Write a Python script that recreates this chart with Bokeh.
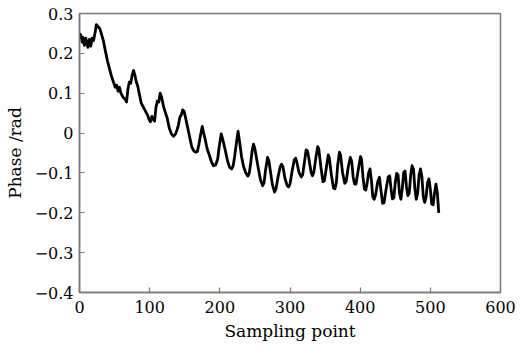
from bokeh.plotting import figure
from bokeh.models import Range1d, FixedTicker, CustomJSTickFormatter
from bokeh.embed import file_html
from bokeh.resources import INLINE

sample = [0, 2, 4, 5, 7, 9, 12, 14, 16, 18, 20, 22, 24, 26, 29, 31, 34, 37, 40, 43, 46, 49, 51, 53, 55, 57, 59, 62, 65, 67,
          69, 71, 73, 75, 77, 79, 81, 83, 85, 88, 91, 94, 97, 99, 101, 103, 105, 107, 109, 111, 113, 115, 117, 120, 123, 125,
          128, 131, 134, 137, 139, 141, 143, 145, 147, 149, 151, 154, 157, 160, 163, 166, 168, 170, 172, 175, 177, 179, 182,
          185, 188, 191, 194, 197, 199, 202, 205, 208, 211, 214, 217, 219, 221, 224, 226, 228, 231, 234, 237, 240, 242, 244,
          246, 248, 250, 252, 255, 258, 261, 263, 265, 268, 270, 272, 275, 278, 280, 283, 286, 288, 290, 293, 296, 298, 300,
          303, 306, 308, 310, 313, 316, 318, 320, 323, 325, 327, 330, 332, 334, 337, 339.5, 341, 344, 347, 349, 352, 354.5,
          356, 359, 362, 364, 366, 368, 370.5, 372, 375, 378, 380, 383, 386, 388, 390, 392, 394, 397, 400.5, 402, 404, 406,
          408, 410, 412, 414, 416, 418, 420, 422, 425, 427.5, 429, 432, 434, 437, 440, 442, 444, 446, 448, 450, 452, 454, 456,
          458, 460, 462, 464, 466, 468, 470, 472, 474, 476, 478, 480, 482, 484, 486, 488, 490, 492, 494, 496, 498, 500, 502,
          504, 506, 508, 510, 512]

phase = [0.250, 0.245, 0.228, 0.240, 0.220, 0.238, 0.215, 0.235, 0.218, 0.238, 0.232, 0.250, 0.272, 0.268, 0.262, 0.250,
         0.232, 0.205, 0.180, 0.160, 0.140, 0.125, 0.115, 0.120, 0.105, 0.115, 0.100, 0.090, 0.085, 0.078,
         0.110, 0.128, 0.125, 0.145, 0.157, 0.145, 0.128, 0.118, 0.100, 0.075, 0.065, 0.055, 0.045, 0.035, 0.028, 0.042,
         0.035, 0.030, 0.065, 0.080, 0.078, 0.100, 0.090, 0.065, 0.048, 0.038,
         0.012, -0.002, -0.008, -0.002, 0.008, 0.020, 0.040, 0.045, 0.058, 0.055, 0.040, 0.015, -0.010, -0.035, -0.045,
         -0.048, -0.046, -0.030, -0.010, 0.017, 0.000, -0.015, -0.040,
         -0.055, -0.072, -0.082, -0.080, -0.065, -0.035, -0.002, -0.022, -0.045, -0.070, -0.086, -0.090, -0.082, -0.060,
         -0.020, 0.004, -0.020, -0.060, -0.085, -0.100, -0.108, -0.100, -0.075,
         -0.045, -0.028, -0.040, -0.060, -0.090, -0.118, -0.132, -0.125, -0.095, -0.061, -0.070, -0.095, -0.130, -0.148,
         -0.140, -0.110, -0.085, -0.078, -0.085, -0.115, -0.132, -0.135, -0.128,
         -0.095, -0.068, -0.063, -0.075, -0.100, -0.110, -0.105, -0.080, -0.042, -0.045, -0.065, -0.098, -0.107, -0.098,
         -0.060, -0.034, -0.040, -0.085, -0.122, -0.120, -0.085, -0.055,
         -0.062, -0.105, -0.138, -0.140, -0.125, -0.080, -0.048, -0.055, -0.100, -0.126, -0.122, -0.085, -0.061, -0.072,
         -0.110, -0.128, -0.128, -0.095, -0.059, -0.066, -0.110, -0.140,
         -0.143, -0.125, -0.100, -0.090, -0.118, -0.160, -0.166, -0.155, -0.122, -0.111, -0.135, -0.176, -0.175, -0.140,
         -0.110, -0.107, -0.140, -0.165, -0.162, -0.125, -0.101, -0.105, -0.150,
         -0.166, -0.140, -0.099, -0.095, -0.135, -0.157, -0.150, -0.105, -0.082, -0.090, -0.140, -0.166, -0.150, -0.105,
         -0.090, -0.110, -0.160, -0.174, -0.160, -0.125, -0.115, -0.140, -0.178,
         -0.180, -0.150, -0.128, -0.150, -0.200]

x_ticks = [0, 100, 200, 300, 400, 500, 600]
y_ticks = [-0.4, -0.3, -0.2, -0.1, 0.0, 0.1, 0.2, 0.3]

FONT = "DejaVu Serif"
GRAY = "#7a7a7a"

p = figure(width=530, height=347, output_backend="svg", toolbar_location=None,
           x_range=Range1d(0, 600), y_range=Range1d(-0.4, 0.3),
           min_border_left=79, min_border_right=30, min_border_top=13, min_border_bottom=55)

p.line(sample, phase, line_color="black", line_width=2.8, line_join="round")

p.background_fill_color = "white"
p.border_fill_color = "white"
p.outline_line_color = GRAY
p.outline_line_width = 1.5
p.xgrid.visible = False
p.ygrid.visible = False

p.xaxis.ticker = FixedTicker(ticks=x_ticks)
p.yaxis.ticker = FixedTicker(ticks=y_ticks)
p.yaxis.formatter = CustomJSTickFormatter(code="""
if (Math.abs(tick) < 1e-9) { return '0'; }
return tick.toFixed(1).replace('-', '\u2212');
""")

for ax in (p.xaxis, p.yaxis):
    ax.axis_line_color = GRAY
    ax.axis_line_width = 1.5
    ax.major_tick_line_color = GRAY
    ax.major_tick_line_width = 1.2
    ax.major_tick_in = 5
    ax.major_tick_out = 0
    ax.minor_tick_line_color = None
    ax.major_label_text_font = FONT
    ax.major_label_text_font_size = "16px"
    ax.major_label_text_color = "black"
    ax.axis_label_text_font = FONT
    ax.axis_label_text_font_size = "17px"
    ax.axis_label_text_font_style = "normal"
    ax.axis_label_text_color = "black"

p.xaxis.axis_label = "Sampling point"
p.yaxis.axis_label = "Phase /rad"
p.xaxis.major_label_standoff = 8
p.yaxis.major_label_standoff = 6
p.xaxis.axis_label_standoff = 5
p.yaxis.axis_label_standoff = 7

open("out.html", "w").write(file_html(p, INLINE))
